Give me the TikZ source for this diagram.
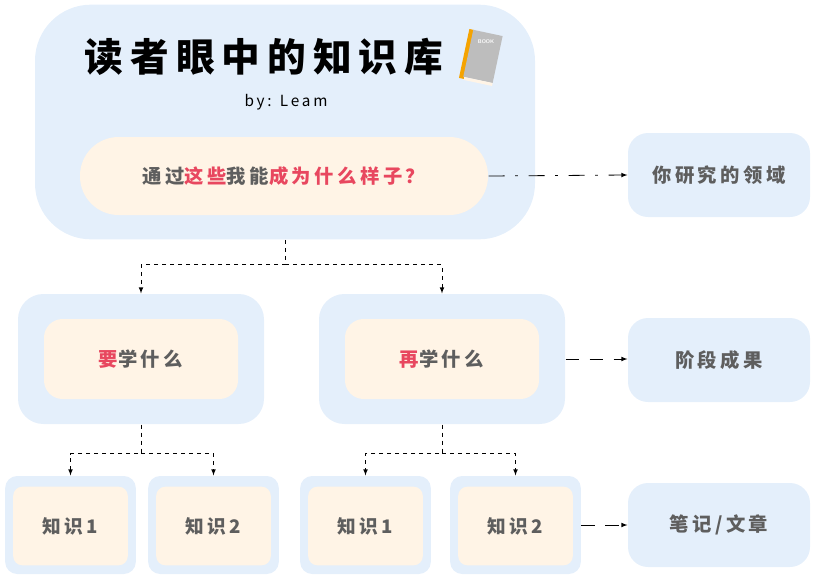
\documentclass[tikz,border=0pt]{standalone}
\usepackage{fontspec}
\newfontfamily\cjk{Noto Sans CJK SC}
\newfontfamily\cjkwide[LetterSpace=18]{Noto Sans CJK SC}
\usetikzlibrary{positioning}
\definecolor{boxblue}{HTML}{E4EFFB}
\definecolor{cream}{HTML}{FFF4E6}
\definecolor{txtgrey}{HTML}{5E5E5E}
\definecolor{hired}{HTML}{E8475F}
\definecolor{bookgrey}{HTML}{BDBDBD}
\definecolor{bookorange}{HTML}{F5A300}
\newcommand{\hl}[1]{\textcolor{hired}{#1}}
\begin{document}
\begin{tikzpicture}[x=0.75pt,y=-0.75pt,>=latex,thick,
  outer box/.style={fill=boxblue,draw=none,inner sep=0pt},
  inner box/.style={fill=cream,draw=none,inner sep=0pt,font=\cjkwide\bfseries\fontsize{14.5}{18}\selectfont,text=txtgrey},
  side box/.style={fill=boxblue,draw=none,rounded corners=15pt,minimum width=136.5pt,minimum height=63pt,inner sep=0pt,font=\cjkwide\bfseries\fontsize{14.5}{18}\selectfont,text=txtgrey},
  leaf/.style={fill=boxblue,draw=none,rounded corners=9pt,minimum width=98pt,minimum height=73.5pt,inner sep=0pt},
  leaf in/.style={fill=cream,draw=none,rounded corners=7pt,minimum width=86pt,minimum height=59pt,inner sep=0pt,font=\cjkwide\bfseries\fontsize{14}{17}\selectfont,text=txtgrey},
  link/.style={dashed,semithick,->}]
\useasboundingbox (0,0) rectangle (815,579);

% top part
\node[outer box,rounded corners=42pt,minimum width=375pt,minimum height=176pt] (top) at (285,122) {};
\node[font=\cjkwide\bfseries\fontsize{29}{34}\selectfont] (title) at (264,57) {读者眼中的知识库};
\node[font=\cjkwide\itshape\fontsize{11.5}{13}\selectfont] (by) at (286,102) {by: Leam};
\node[inner box,rounded corners=29pt,minimum width=306pt,minimum height=58.5pt] (ask) at (284,176)
  {通过\hl{这些}我能\hl{成为什么样子？}};
\begin{scope}[shift={(481,56)},rotate=-12]
  \fill[bookorange] (-17,-24) rectangle (-12,26);
  \fill[bookgrey] (-13,-24) rectangle (17,24);
  \fill[cream] (-12,24) rectangle (17,27);
  \node[white,font=\sffamily\bfseries\tiny,scale=0.8] (book) at (2,-15) {BOOK};
\end{scope}

% middle and bottom parts
\node[outer box,rounded corners=19pt,minimum width=184.5pt,minimum height=97.5pt] (m1) at (141,359) {};
\node[inner box,rounded corners=14pt,minimum width=145.5pt,minimum height=60pt] (m1in) at (141,359) {\hl{要}学什么};
\node[outer box,rounded corners=19pt,minimum width=184.5pt,minimum height=97.5pt] (m2) at (442,359) {};
\node[inner box,rounded corners=14pt,minimum width=145.5pt,minimum height=60pt] (m2in) at (442,359) {\hl{再}学什么};

\node[side box] (field) at (719,175) {你研究的领域};
\node[side box] (result) at (719,360) {阶段成果};
\node[side box] (notes) at (719,525) {笔记/文章};

\node[leaf] (l1) at (70.5,525) {};
\node[leaf in] at (70.5,526) {知识1};
\node[leaf] (l2) at (213.5,525) {};
\node[leaf in] at (213.5,526) {知识2};
\node[leaf] (l3) at (365.5,525) {};
\node[leaf in] at (365.5,526) {知识1};
\node[leaf] (l4) at (515.5,525) {};
\node[leaf in] at (515.5,526) {知识2};

% connectors
\draw[link] (top.south) -- ++(0,25) -| (m1.north);
\draw[link] (top.south) ++(0,25) -| (m2.north);
\draw[link] (m1.south) -- ++(0,29) -| (l1.north);
\draw[link] (m1.south) ++(0,29) -| (l2.north);
\draw[link] (m2.south) -- ++(0,29) -| (l3.north);
\draw[link] (m2.south) ++(0,29) -| (l4.north);
\draw[semithick,->,dash pattern=on 12pt off 8pt on 2pt off 8pt] (ask.east) -- (field.west);
\draw[link,dash pattern=on 10pt off 8pt] (m2.east) -- (result.west |- m2.east);
\draw[link,dash pattern=on 10pt off 8pt] (l4.east) -- (notes.west);
\end{tikzpicture}
\end{document}
